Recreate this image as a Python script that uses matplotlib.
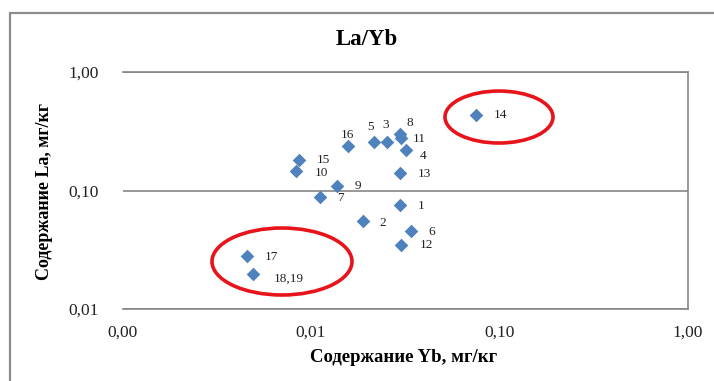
import matplotlib
matplotlib.use("Agg")
import matplotlib.pyplot as plt
from matplotlib.patches import Ellipse, Rectangle
from matplotlib.ticker import FuncFormatter, FixedLocator, NullLocator

# sample numbers and measured contents (mg/kg)
labels = ["1", "2", "3", "4", "5", "6", "7", "8", "9", "10",
          "11", "12", "13", "14", "15", "16", "17", "18,19"]
yb = [0.0298, 0.0188, 0.0255, 0.0321, 0.0217, 0.0339, 0.0112, 0.0298, 0.0137,
      0.00834, 0.0301, 0.0301, 0.0298, 0.0753, 0.00865, 0.0157, 0.00457, 0.00495]
la = [0.0761, 0.0549, 0.259, 0.218, 0.259, 0.0458, 0.0878, 0.302, 0.109,
      0.145, 0.280, 0.0349, 0.140, 0.433, 0.180, 0.236, 0.0280, 0.0199]
ticks = [0.001, 0.01, 0.1, 1.0]

# label offsets in pixels (centre of text relative to marker)
offsets = {
    "1": (20.7, -1), "2": (20.4, -1.3), "3": (-1.6, 16.6), "4": (16.3, -5.7),
    "5": (-4, 14.6), "6": (20.6, -1), "7": (20.3, -0.6), "8": (9.3, 11),
    "9": (21.6, -0.3), "10": (25, -1.5), "11": (18, -1), "12": (25, 0),
    "13": (24.3, -0.6), "14": (24.7, 0), "15": (24.7, 0), "16": (0, 11),
    "17": (24.3, -0.7), "18,19": (35.7, -5),
}

plt.rcParams['font.family'] = ['Liberation Serif', 'DejaVu Serif']

W, H = 714, 381
fig = plt.figure(figsize=(W / 100, H / 100), dpi=100)
ax = fig.add_axes([122.5 / W, 1 - 309 / H, 565.2 / W, 237 / H])

grey = '#868686'
ax.scatter(yb, la, marker='D', s=48, color='#4F81BD', zorder=3, linewidths=0)

for name, x, y in zip(labels, yb, la):
    dx, dy = offsets[name]
    ax.annotate(name, (x, y), xytext=(dx, dy), textcoords='offset pixels',
                ha='center', va='center', fontsize=9.5, color='#222222', zorder=4)

ax.set_xscale('log')
ax.set_yscale('log')
ax.set_xlim(0.001, 1)
ax.set_ylim(0.01, 1)

fmt = FuncFormatter(lambda v, p: f"{v:.2f}".replace('.', ','))
ax.xaxis.set_major_locator(FixedLocator(ticks))
ax.yaxis.set_major_locator(FixedLocator(ticks[1:]))
ax.xaxis.set_minor_locator(NullLocator())
ax.yaxis.set_minor_locator(NullLocator())
ax.xaxis.set_major_formatter(fmt)
ax.yaxis.set_major_formatter(fmt)
ax.tick_params(length=0, labelsize=12.5, colors='#222222')
ax.tick_params(axis='x', pad=11)
ax.tick_params(axis='y', pad=17)

ax.grid(axis='y', color=grey, lw=1.2)
ax.set_axisbelow(True)
ax.spines['left'].set_visible(False)
for s in ['top', 'right', 'bottom']:
    ax.spines[s].set_color(grey)
    ax.spines[s].set_linewidth(1.2)

# red ellipses around the outlying groups
ax.add_patch(Ellipse((0.2822, 0.2004), 0.2477, 0.2827, transform=ax.transAxes,
                     fill=False, edgecolor='#E8141B', lw=2.6, zorder=5))
ax.add_patch(Ellipse((0.6661, 0.810), 0.1911, 0.2194, transform=ax.transAxes,
                     fill=False, edgecolor='#E8141B', lw=2.6, zorder=5))

fig.text(367 / W, 1 - 39.5 / H, "La/Yb", ha='center', va='center',
         fontsize=16.5, fontweight='bold')
fig.text(404 / W, 1 - 358 / H, "Содержание Yb, мг/кг", ha='center', va='center',
         fontsize=13.5, fontweight='bold')
fig.text(45 / W, 1 - 191 / H, "Содержание La, мг/кг", ha='center', va='center',
         fontsize=13, fontweight='bold', rotation=90)

fig.patches.append(Rectangle((10.3 / W, -0.1), 1.2, 1.1 - 12.7 / H,
                             transform=fig.transFigure, fill=False,
                             edgecolor='#8c8c8c', lw=1.6))

fig.savefig('out.png', dpi=100)
